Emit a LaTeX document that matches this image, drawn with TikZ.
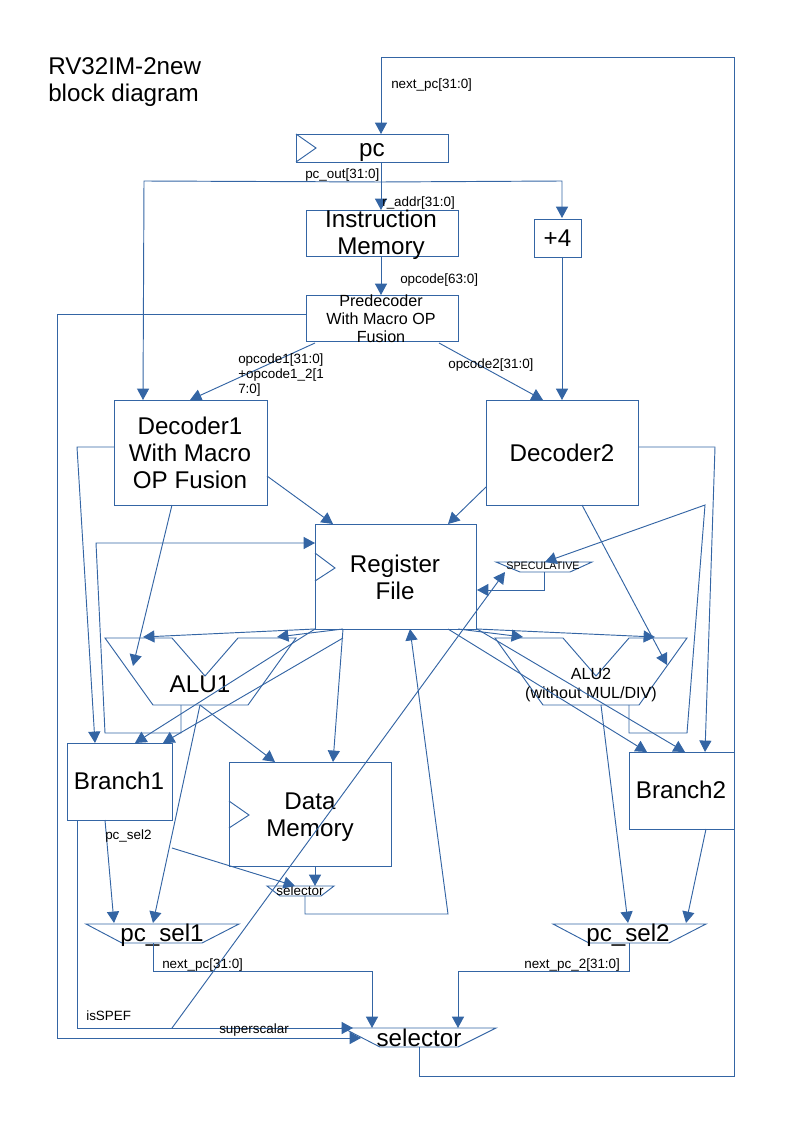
\documentclass[tikz,border=0pt]{standalone}
\usepackage{fontspec}
\setmainfont{Liberation Sans}
\usetikzlibrary{arrows.meta,positioning}
\definecolor{wireblue}{HTML}{3465A4}
\tikzset{
  wire/.style={draw=wireblue,line width=0.7pt},
  arrowwire/.style={wire,-{Triangle[length=8.5pt,width=9pt]}},
  blockbox/.style={draw=wireblue,line width=0.7pt,inner sep=0pt,outer sep=0pt},
  boxsize/.style 2 args={minimum width=#1*0.744pt,minimum height=#2*0.744pt},
  bigtext/.style={font=\fontsize{18}{20}\selectfont,align=center,inner sep=0pt},
  midtext/.style={font=\fontsize{12}{13.5}\selectfont,align=center,inner sep=0pt},
  smalltext/.style={font=\fontsize{10}{11}\selectfont,align=left,inner sep=0pt},
  sigtext/.style={smalltext,anchor=west},
}
\begin{document}
\begin{tikzpicture}[x=0.744pt,y=-0.744pt]
      \useasboundingbox (0,0) rectangle (800,1131);
      \node[bigtext,align=left,anchor=north west] at (48,57) (title) {RV32IM-2new\\block diagram};
      % blocks
      \node[blockbox,boxsize={152}{28}] at (372,148) (pc) {};
      \node[blockbox,boxsize={152}{46}] at (382,233) (imem) {};
      \node[blockbox,boxsize={47}{38}] at (557.5,238) (plus4) {};
      \node[blockbox,boxsize={152}{46}] at (382,318) (predec) {};
      \node[blockbox,boxsize={153}{105}] at (190.5,452.5) (dec1) {};
      \node[blockbox,boxsize={152}{105}] at (562,452.5) (dec2) {};
      \node[blockbox,boxsize={161}{105}] at (395.5,576.5) (regfile) {};
      \node[blockbox,boxsize={105}{77}] at (119.5,781.5) (branch1) {};
      \node[blockbox,boxsize={162}{104}] at (310,814) (dmem) {};
      \node[blockbox,boxsize={105}{77}] at (681.5,790.5) (branch2) {};
      \node[bigtext] at (372,153) (pctext) {pc};
      \node[bigtext] at (381,235) (imemtext) {Instruction\\Memory};
      \node[bigtext] at (557.5,238) (plustext) {+4};
      \node[midtext] at (381,319) (predtext) {Predecoder\\With Macro OP\\Fusion};
      \node[bigtext] at (190,453) (dec1text) {Decoder1\\With Macro\\OP Fusion};
      \node[bigtext] at (562,453) (dec2text) {Decoder2};
      \node[bigtext] at (395,577) (regtext) {Register\\File};
      \node[bigtext] at (119,781) (br1text) {Branch1};
      \node[bigtext] at (310,817) (dmemtext) {Data\\Memory};
      \node[bigtext] at (681,790) (br2text) {Branch2};
      % clock marks
      \draw[wire] (296,134)--(316,148)--(296,162);
      \draw[wire] (315,553)--(335,568)--(315,581);
      \draw[wire] (229,801)--(249,815)--(229,828);
      % muxes and alus
      \draw[wire] (105,638)--(172,638)--(205,676)--(238,638)--(296,638)--(248,705)--(153,705)--cycle;
      \draw[wire] (495,638)--(563,638)--(596,676)--(629,638)--(687,638)--(639,705)--(543,705)--cycle;
      \draw[wire] (496,562)--(592,562)--(570,572)--(520,572)--cycle;
      \draw[wire] (267,886)--(334,886)--(321,896)--(280,896)--cycle;
      \draw[wire] (86,924)--(239,924)--(202,943)--(122,943)--cycle;
      \draw[wire] (553,924)--(706,924)--(669,943)--(589,943)--cycle;
      \draw[wire] (343,1028)--(496,1028)--(458,1047)--(380,1047)--cycle;
      \node[bigtext] at (200,684) (alu1) {ALU1};
      \node[midtext] at (591,685) (alu2) {ALU2\\(without MUL/DIV)};
      \node[font=\fontsize{8}{9}\selectfont,inner sep=0pt] at (543,566) (spec) {SPECULATIVE};
      \node[smalltext] at (300,891) (sel2) {selector};
      \node[bigtext] at (162,935) (pcsel1) {pc\_sel1};
      \node[bigtext] at (628,935) (pcsel2) {pc\_sel2};
      \node[bigtext] at (419,1038) (sel1) {selector};
      % connection points
      \coordinate (pcout) at (381,163);
      \coordinate (pcjoin) at (381,182);
      \coordinate (pcin) at (381,134);
      \coordinate (imemin) at (381,210);
      \coordinate (imemout) at (381,257);
      \coordinate (predin) at (381,295);
      \coordinate (predl) at (306,314);
      \coordinate (pred1) at (315,343);
      \coordinate (pred2) at (439,343);
      \coordinate (dec1in) at (190,400);
      \coordinate (dec1pc) at (143,400);
      \coordinate (dec2in) at (543,400);
      \coordinate (dec2pc) at (562,400);
      \coordinate (plusin) at (562,218);
      \coordinate (plusout) at (562,257);
      \coordinate (dec1r) at (267,476);
      \coordinate (dec1b) at (172,505);
      \coordinate (dec1l) at (114,447);
      \coordinate (dec2l) at (486,487);
      \coordinate (dec2b) at (582,505);
      \coordinate (dec2r) at (638,447);
      \coordinate (regdec1) at (333,524);
      \coordinate (regdec2) at (448,524);
      \coordinate (regfb) at (315,543);
      \coordinate (regspec) at (477,590);
      \coordinate (regsel) at (410,629);
      \coordinate (regbl) at (315,629);
      \coordinate (regbm) at (343,629);
      \coordinate (regbr) at (477,629);
      \coordinate (regbq) at (448,629);
      \coordinate (regbp) at (458,629);
      \coordinate (alu1a) at (143,637);
      \coordinate (alu1b) at (277,637);
      \coordinate (alu1in) at (133,666);
      \coordinate (alu1f) at (181,705);
      \coordinate (alu1o) at (200,705);
      \coordinate (alu2a) at (523,637);
      \coordinate (alu2b) at (655,637);
      \coordinate (alu2in) at (667,665);
      \coordinate (alu2f) at (629,705);
      \coordinate (alu2o) at (601,705);
      \coordinate (specin) at (545,562);
      \coordinate (specout) at (544,572);
      \coordinate (specdata) at (505,572);
      \coordinate (br1a) at (135,743);
      \coordinate (br1b) at (163,743);
      \coordinate (br1l) at (95,743);
      \coordinate (br1bot) at (77,820);
      \coordinate (br1sel) at (105,820);
      \coordinate (br1data) at (172,848);
      \coordinate (dmema) at (275,762);
      \coordinate (dmemb) at (333,762);
      \coordinate (dmemout) at (315,866);
      \coordinate (selin) at (315,886);
      \coordinate (selb) at (295,886);
      \coordinate (selout) at (305,896);
      \coordinate (br2a) at (647,752);
      \coordinate (br2b) at (685,752);
      \coordinate (br2c) at (705,752);
      \coordinate (br2out) at (706,829);
      \coordinate (sel1a) at (114,923);
      \coordinate (sel1b) at (153,923);
      \coordinate (sel1o) at (153,943);
      \coordinate (sel2a) at (628,923);
      \coordinate (sel2b) at (686,923);
      \coordinate (sel2o) at (629,943);
      \coordinate (mainl1) at (353,1028);
      \coordinate (mainl2) at (361,1038);
      \coordinate (main1) at (372,1028);
      \coordinate (main2) at (458,1028);
      \coordinate (mainout) at (419,1047);
      \coordinate (spef) at (172,1028);
      % pc and fetch
      \draw[arrowwire] (mainout)--(419,1076)--(734,1076)--(734,57)--(381,57)--(pcin);
      \draw[arrowwire] (pcout)--(imemin);
      \draw[arrowwire] (pcjoin)--(144,181)--(dec1pc);
      \draw[arrowwire] (pcjoin)--(562,181)--(plusin);
      \draw[arrowwire] (plusout)--(dec2pc);
      \draw[arrowwire] (imemout)--(predin);
      \draw[arrowwire] (pred1)--(dec1in);
      \draw[arrowwire] (pred2)--(dec2in);
      \draw[arrowwire] (predl)--(57,314)--(57,1038)--(mainl2);
      % decoders
      \draw[arrowwire] (dec1r)--(regdec1);
      \draw[arrowwire] (dec2l)--(regdec2);
      \draw[arrowwire] (dec1b)--(alu1in);
      \draw[arrowwire] (dec2b)--(alu2in);
      \draw[arrowwire] (dec1l)--(77,447)--(br1l);
      \draw[arrowwire] (dec2r)--(715,447)--(br2c);
      % register file and alus
      \draw[arrowwire] (regbl)--(alu1a);
      \draw[arrowwire] (regbm)--(alu1b);
      \draw[arrowwire] (regbl)--(br1a);
      \draw[arrowwire] (343,638)--(br1b);
      \draw[arrowwire] (regbm)--(dmemb);
      \draw[arrowwire] (regbp)--(alu2a);
      \draw[arrowwire] (regbr)--(alu2b);
      \draw[arrowwire] (regbq)--(br2a);
      \draw[arrowwire] (regbr)--(br2b);
      \draw[arrowwire] (alu1f)--(181,733)--(105,733)--(96,543)--(regfb);
      \draw[arrowwire] (alu1o)--(dmema);
      \draw[arrowwire] (alu1o)--(sel1b);
      \draw[arrowwire] (alu2o)--(sel2a);
      \draw[arrowwire] (alu2f)--(629,733)--(687,733)--(705,505)--(specin);
      \draw[arrowwire] (specout)--(544,590)--(regspec);
      % branches and selectors
      \draw[arrowwire] (br1sel)--(sel1a);
      \draw[arrowwire] (br1bot)--(77,1028)--(mainl1);
      \draw[arrowwire] (spef)--(specdata);
      \draw[arrowwire] (br1data)--(selb);
      \draw[arrowwire] (dmemout)--(selin);
      \draw[arrowwire] (selout)--(305,914)--(448,914)--(regsel);
      \draw[arrowwire] (br2out)--(sel2b);
      \draw[arrowwire] (sel1o)--(153,971)--(372,971)--(main1);
      \draw[arrowwire] (sel2o)--(629,971)--(458,971)--(main2);
      % signal names
      \node[sigtext] at (391,85) (lnext) {next\_pc[31:0]};
      \node[sigtext] at (305,175) (lpcout) {pc\_out[31:0]};
      \node[sigtext] at (382,203) (laddr) {r\_addr[31:0]};
      \node[sigtext] at (400,280) (lopc) {opcode[63:0]};
      \node[sigtext] at (238,375) (lopc1) {opcode1[31:0]\\+opcode1\_2[1\\7:0]};
      \node[sigtext] at (448,365) (lopc2) {opcode2[31:0]};
      \node[sigtext] at (105,836) (lsel2) {pc\_sel2};
      \node[sigtext] at (162,965) (lnext1) {next\_pc[31:0]};
      \node[sigtext] at (524,965) (lnext2) {next\_pc\_2[31:0]};
      \node[sigtext] at (86,1016) (lspef) {isSPEF};
      \node[sigtext] at (219,1030) (lsuper) {superscalar};
    \end{tikzpicture}
\end{document}
